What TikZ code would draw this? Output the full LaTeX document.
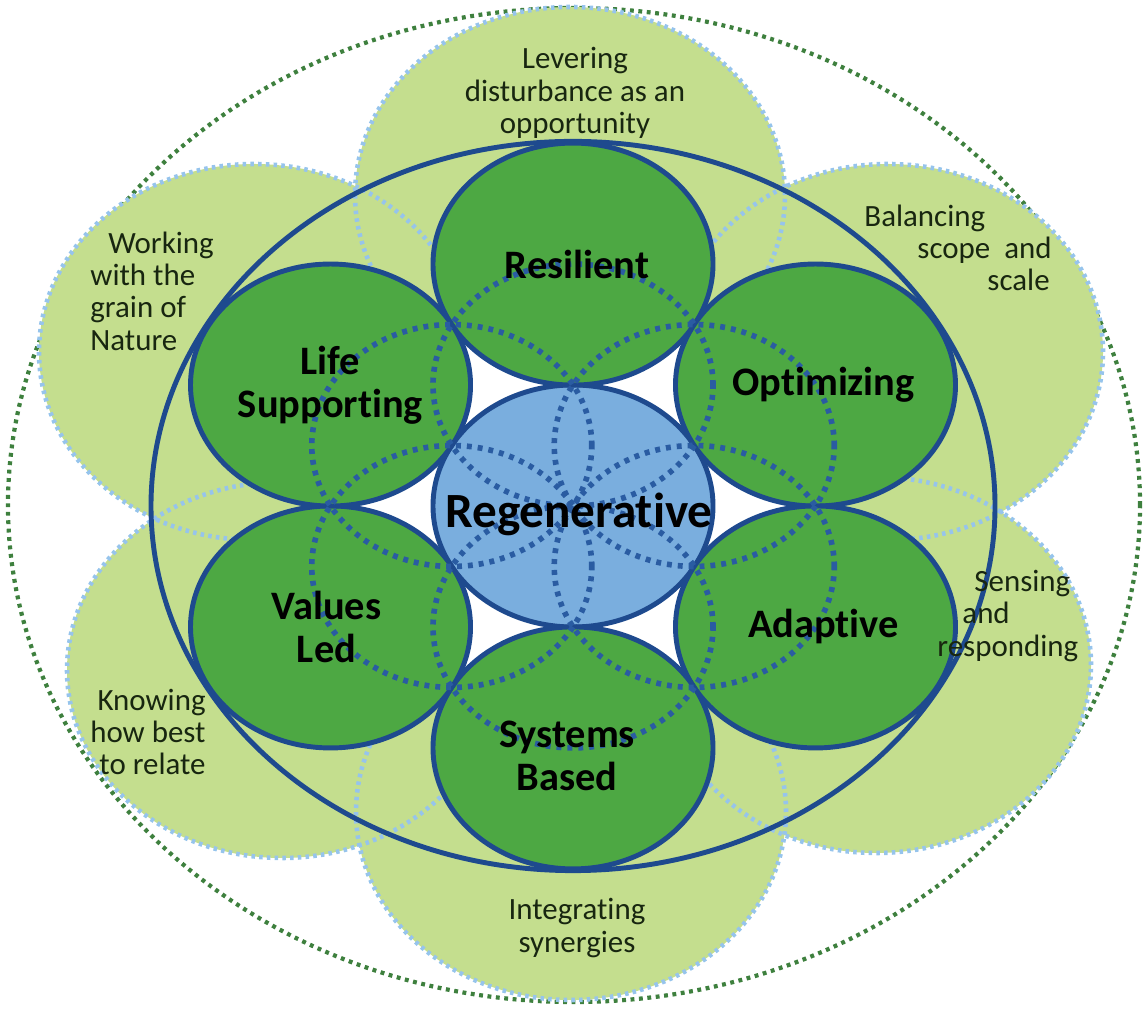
\documentclass[tikz,border=0pt]{standalone}
\usepackage{fontspec}
\setmainfont{Carlito}[Ligatures=NoCommon]
\usetikzlibrary{shapes.geometric}

\definecolor{palegreen}{RGB}{196,222,142}
\definecolor{leafgreen}{RGB}{77,168,67}
\definecolor{hubblue}{RGB}{122,174,222}
\definecolor{rimblue}{RGB}{30,74,142}
\definecolor{seedblue}{RGB}{42,92,162}
\definecolor{dotblue}{RGB}{150,196,236}
\definecolor{dotgreen}{RGB}{62,128,62}
\definecolor{inkgreen}{RGB}{24,38,16}

\tikzset{
	leaf/.style={shape=ellipse, draw=rimblue, line width=1.4pt, fill=leafgreen, minimum width=2.8cm, minimum height=2.42cm, inner sep=0pt},
	hub/.style={leaf, fill=hubblue},
	paleborder/.style={draw=dotblue, line width=1.3pt, dash pattern=on 1pt off 1.2pt},
	seed/.style={draw=seedblue, line width=1.6pt, dash pattern=on 1.4pt off 1.7pt},
	rim/.style={draw=rimblue, line width=1.4pt},
	outerdots/.style={draw=dotgreen, line width=1.2pt, dash pattern=on 1.1pt off 1.3pt},
	leaftext/.style={font=\fontsize{11.5}{12.3}\selectfont\bfseries, align=center, text=black},
	hubtext/.style={font=\fontsize{14}{16}\selectfont\bfseries, text=black},
	note/.style={font=\fontsize{8.8}{9.2}\selectfont, text=inkgreen}
}

\begin{document}
\begin{tikzpicture}
	\useasboundingbox (0,0) rectangle (11.47,10.08);
	% Outer dotted ring:
	\draw[outerdots] (5.74,5.03) ellipse [x radius=5.66, y radius=4.97];
	% Pale outer petals:
	\fill[palegreen] (5.70,8.13) ellipse [x radius=2.15, y radius=1.88];
	\fill[palegreen] (8.88,6.56) ellipse [x radius=2.15, y radius=1.88];
	\fill[palegreen] (8.76,3.43) ellipse [x radius=2.15, y radius=1.88];
	\fill[palegreen] (5.71,1.96) ellipse [x radius=2.15, y radius=1.88];
	\fill[palegreen] (2.82,3.38) ellipse [x radius=2.15, y radius=1.88];
	\fill[palegreen] (2.54,6.56) ellipse [x radius=2.15, y radius=1.88];
	\draw[paleborder] (5.70,8.13) ellipse [x radius=2.15, y radius=1.88];
	\draw[paleborder] (8.88,6.56) ellipse [x radius=2.15, y radius=1.88];
	\draw[paleborder] (8.76,3.43) ellipse [x radius=2.15, y radius=1.88];
	\draw[paleborder] (5.71,1.96) ellipse [x radius=2.15, y radius=1.88];
	\draw[paleborder] (2.82,3.38) ellipse [x radius=2.15, y radius=1.88];
	\draw[paleborder] (2.54,6.56) ellipse [x radius=2.15, y radius=1.88];

	\begin{scope}[shift={(5.73,5.02)}, yscale=0.864]
		\fill[white] (0,0) circle (2.38);
		\draw[rim] (0,0) circle (4.22);
		% Seven circles:
		\node[hub] (regen) at (0,0) {};
		\node[leaf] (resil) at (90:2.8) {};
		\node[leaf] (optim) at (30:2.8) {};
		\node[leaf] (adapt) at (-30:2.8) {};
		\node[leaf] (systm) at (-90:2.8) {};
		\node[leaf] (value) at (210:2.8) {};
		\node[leaf] (lifes) at (150:2.8) {};
		% Seed of life:
		\foreach \a in {30,90,...,330}
			\draw[seed] (\a:1.4) circle (1.4);
	\end{scope}

	% Labels:
	\node[hubtext] (regen-t) at ([xshift=0.06cm, yshift=-0.08cm]regen) {Regenerative};
	\node[leaftext] (resil-t) at ([xshift=0.04cm]resil) {Resilient};
	\node[leaftext] (optim-t) at ([xshift=0.08cm]optim) {Optimizing};
	\node[leaftext] (adapt-t) at ([xshift=0.08cm]adapt) {Adaptive};
	\node[leaftext] (systm-t) at ([xshift=-0.06cm, yshift=-0.08cm]systm) {Systems\\Based};
	\node[leaftext] (value-t) at ([xshift=-0.04cm]value) {Values\\Led};
	\node[leaftext] (lifes-t) at (lifes) {Life\\Supporting};

	\node[note, align=center] (lever) at (5.75,9.15) {Levering\\disturbance as an\\opportunity};
	\node[note, anchor=west, align=left] (work) at (0.78,7.17) {\hspace*{0.18cm}Working\\with the\\grain of\\Nature};
	\node[note, anchor=west, align=left] (balan) at (8.52,7.60) {Balancing\\\hspace*{0.53cm}scope\ \ and\\\hspace*{1.23cm}scale};
	\node[note, anchor=east, align=right] (know) at (2.18,2.76) {Knowing\\how best\\to relate};
	\node[note, anchor=west, align=left] (sense) at (9.25,3.92) {\hspace*{0.37cm}Sensing\\\hspace*{0.25cm}and\\responding};
	\node[note, align=center] (integ) at (5.77,0.80) {Integrating\\synergies};
\end{tikzpicture}
\end{document}
